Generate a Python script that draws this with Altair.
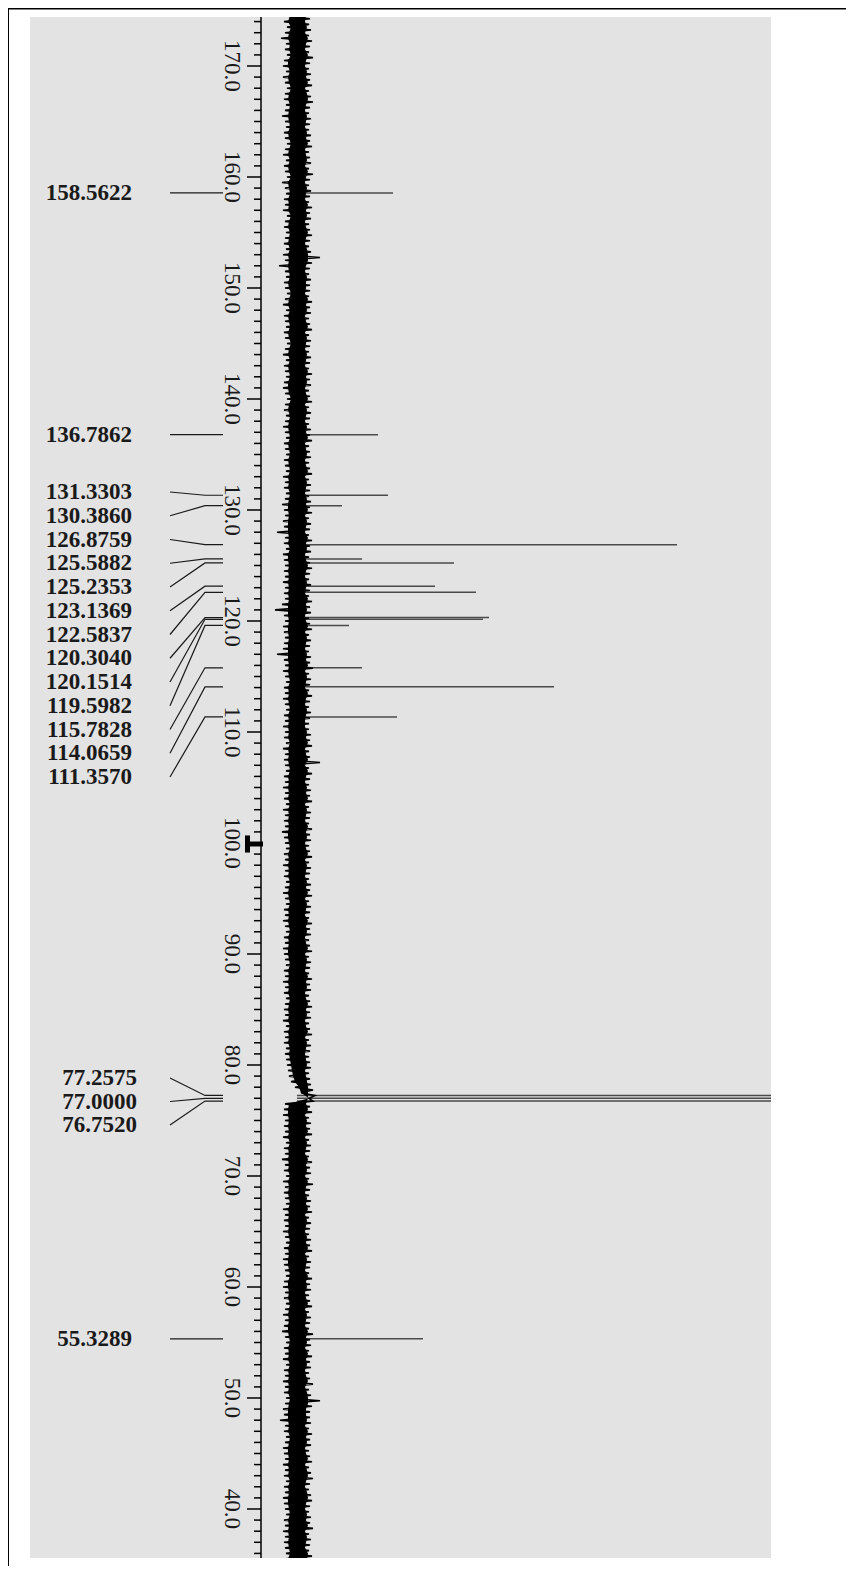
import altair as alt
import pandas as pd

# ---------------- data ----------------
peak_ppm = [158.5622, 136.7862, 131.3303, 130.3860, 126.8759, 125.5882, 125.2353,
            123.1369, 122.5837, 120.3040, 120.1514, 119.5982, 115.7828, 114.0659,
            111.3570, 77.2575, 77.0000, 76.7520, 55.3289]
peak_height = [96, 81, 91, 45, 380, 65, 157, 138, 179, 192, 186, 52, 65, 257,
               100, 2000, 2000, 2000, 126]
peak_group = ["s", "s", "a", "a", "a", "a", "a", "a", "a", "a", "a", "a", "a", "a",
              "a", "b", "b", "b", "s"]

tick_major = [40, 50, 60, 70, 80, 90, 100, 110, 120, 130, 140, 150, 160, 170]
tick_major_labels = ["40.0", "50.0", "60.0", "70.0", "80.0", "90.0", "100.0", "110.0",
                     "120.0", "130.0", "140.0", "150.0", "160.0", "170.0"]
tick_minor = list(range(36, 175))

marker_ppm = [99.91]

# noise envelope (px left / right of the baseline), every 0.5 ppm from 174.5 ppm down
noise_left = [
    11, 13, 10, 12, 16, 11, 12, 10, 13, 14, 11, 14, 12, 10, 12, 13, 11, 12, 15, 12,
    11, 13, 12, 10, 12, 14, 11, 13, 12, 10, 15, 12, 11, 13, 12, 14, 10, 12, 13, 11,
    12, 13, 11, 14, 12, 18, 12, 11, 13, 12, 10, 12, 14, 11, 13, 12, 11, 13, 12, 10,
    12, 14, 11, 13, 12, 11, 13, 14, 12, 10, 12, 13, 11, 12, 14, 12, 11, 13, 12, 11,
    13, 12, 11, 14, 12, 13, 11, 12, 15, 13, 12, 14, 13, 20, 12, 13, 11, 14, 13, 12,
    13, 12, 14, 12, 13, 12, 15, 22, 13, 12, 14, 13, 12, 13, 14, 20, 13, 12, 14, 12,
    11, 13, 12, 14, 12, 11, 13, 12, 14, 12, 13, 11, 14, 12, 13, 12, 11, 13, 12, 14,
    12, 13, 11, 14, 12, 13, 12, 15, 13, 12, 11, 13, 12, 14, 12, 13, 11, 12, 14, 12,
    11, 13, 12, 14, 12, 11, 13, 12, 14, 13, 12, 11, 13, 12, 14, 12, 13, 11, 12, 13,
    12, 14, 11, 13, 12, 13, 11, 12, 11, 10, 9, 8, 6, 2, -4, -12, 12, 13, 14, 12,
    13, 12, 14, 11, 13, 12, 15, 12, 13, 11, 14, 12, 13, 12, 11, 14, 12, 13, 12, 14,
    12, 11, 13, 12, 14, 13, 12, 11, 13, 14, 12, 13, 11, 12, 14, 12, 13, 15, 12, 11,
    13, 12, 14, 11, 13, 12, 14, 12, 13, 11, 12, 14, 13, 17, 12, 13, 11, 12, 14, 13,
    12, 14, 12, 13, 11, 13, 12, 14, 13, 12, 11, 13, 12, 14, 12, 13, 12, 11, 13,
]
noise_right = [
    13, 12, 14, 12, 15, 13, 12, 16, 13, 12, 14, 13, 15, 12, 14, 16, 13, 12, 14, 13,
    12, 14, 13, 15, 12, 13, 14, 12, 16, 13, 12, 14, 13, 12, 15, 13, 14, 12, 13, 15,
    13, 12, 14, 23, 15, 13, 12, 14, 13, 13, 12, 15, 13, 14, 12, 13, 15, 12, 14, 13,
    12, 14, 13, 12, 15, 13, 14, 12, 13, 15, 12, 14, 13, 12, 14, 13, 15, 12, 13, 14,
    12, 13, 15, 12, 14, 13, 12, 14, 13, 15, 12, 14, 13, 12, 15, 13, 14, 12, 13, 15,
    13, 12, 14, 13, 12, 15, 13, 14, 12, 13, 15, 12, 14, 13, 12, 14, 13, 16, 12, 14,
    13, 12, 15, 13, 12, 14, 13, 12, 12, 14, 13, 15, 12, 13, 23, 12, 15, 13, 12, 14,
    13, 15, 12, 14, 13, 12, 15, 13, 14, 12, 13, 15, 12, 14, 13, 12, 14, 13, 15, 12,
    14, 13, 12, 15, 13, 14, 12, 13, 15, 12, 14, 13, 12, 15, 13, 14, 12, 13, 15, 13,
    14, 12, 13, 15, 12, 14, 13, 12, 13, 14, 12, 13, 14, 16, 18, 16, 13, 15, 12, 14,
    13, 15, 12, 14, 13, 12, 15, 13, 14, 12, 16, 13, 12, 14, 13, 15, 12, 14, 13, 12,
    14, 13, 15, 12, 14, 13, 12, 15, 13, 14, 12, 13, 15, 12, 14, 13, 12, 16, 13, 14,
    12, 15, 13, 14, 12, 13, 16, 12, 14, 23, 15, 13, 13, 14, 12, 15, 13, 14, 12, 13,
    15, 12, 14, 16, 13, 12, 14, 15, 13, 12, 14, 13, 16, 12, 14, 13, 12, 15, 14,
]

# ---------------- layout (page pixels -> data units) ----------------
VIEW_W, VIEW_H = 741, 1541
PAD = {"left": 22, "top": 9, "right": 75, "bottom": 8}
PX_PER_PPM = 11.1
BASE_X = 297           # page x of the spectrum baseline
TOP_PPM = 174.414      # ppm at the top of the grey plot area
X_DOM = [30 - BASE_X, 30 + VIEW_W - BASE_X]
Y_DOM = [TOP_PPM - VIEW_H / PX_PER_PPM, TOP_PPM]


def vx(page_x):
    return page_x - BASE_X


def vy(page_y):
    return TOP_PPM - (page_y - 17) / PX_PER_PPM


xs = alt.Scale(domain=X_DOM, nice=False, zero=False)
ys = alt.Scale(domain=Y_DOM, nice=False, zero=False)


def rule_layer(df, color="black", width=1.0, clip=False):
    return alt.Chart(df).mark_rule(color=color, strokeWidth=width, clip=clip).encode(
        x=alt.X("x:Q", scale=xs, axis=None),
        x2="x2:Q",
        y=alt.Y("y:Q", scale=ys, axis=None),
        y2="y2:Q",
    )


# frame (left + top)
frame = pd.DataFrame([
    {"x": vx(8), "x2": vx(8), "y": vy(7.5), "y2": vy(1566)},
    {"x": vx(7), "x2": vx(855), "y": vy(8.5), "y2": vy(8.5)},
])

# peaks
peaks_df = pd.DataFrame({"ppm": peak_ppm, "h": peak_height})
peaks_df["x"] = 0
peaks_df["x2"] = peaks_df["h"]
peaks_df["y"] = peaks_df["ppm"]
peaks_df["y2"] = peaks_df["ppm"]

# noise: solid core + zig-zag trace through the envelope values
n = min(len(noise_left), len(noise_right))
core_df = pd.DataFrame({
    "ppm": [174.5 - 0.5 * i for i in range(n)],
    "lo": [-(min(v, 13) - 4) if v > 0 else -v for v in noise_left[:n]],
    "hi": [min(v, 15) - 4 for v in noise_right[:n]],
})
trace_rows = []
for i in range(n):
    trace_rows.append({"k": 2 * i, "ppm": 174.5 - 0.5 * i, "v": -noise_left[i]})
    trace_rows.append({"k": 2 * i + 1, "ppm": 174.25 - 0.5 * i, "v": noise_right[i]})
trace_df = pd.DataFrame(trace_rows)

# axis line and ticks
AX = vx(261)
axis_df = pd.DataFrame([{"x": AX, "x2": AX, "y": Y_DOM[1], "y2": Y_DOM[0]}])
ticks_df = pd.DataFrame(
    [{"x": AX, "x2": AX - (14 if t % 10 == 0 else 7), "y": t, "y2": t} for t in tick_minor]
)
ticklab_df = pd.DataFrame({"y": tick_major, "label": tick_major_labels})
ticklab_df["x"] = vx(232)

# reference marker at ~100 ppm
marker_v = pd.DataFrame([{"x": vx(247.5), "x2": vx(247.5),
                          "y": marker_ppm[0] + 0.77, "y2": marker_ppm[0] - 0.77}])
marker_h = pd.DataFrame([{"x": vx(245), "x2": vx(263),
                          "y": marker_ppm[0], "y2": marker_ppm[0]}])

# label positions
label_y = {}
a_idx = [i for i, g in enumerate(peak_group) if g == "a"]
for k, i in enumerate(a_idx):
    label_y[i] = vy(492) - k * (23.75 / PX_PER_PPM)
b_idx = [i for i, g in enumerate(peak_group) if g == "b"]
for k, i in enumerate(b_idx):
    label_y[i] = vy(1078) - k * (23.5 / PX_PER_PPM)
for i, g in enumerate(peak_group):
    if g == "s":
        label_y[i] = peak_ppm[i]

lab_rows, con_rows = [], []
for i, p in enumerate(peak_ppm):
    ly = label_y[i]
    right = 137 if peak_group[i] == "b" else 132
    lab_rows.append({"x": vx(right), "y": ly, "label": f"{p:.4f}"})
    con_rows += [
        {"pk": i, "o": 0, "x": vx(170), "y": ly},
        {"pk": i, "o": 1, "x": vx(205), "y": p},
        {"pk": i, "o": 2, "x": vx(223), "y": p},
    ]
lab_df = pd.DataFrame(lab_rows)
con_df = pd.DataFrame(con_rows)

# ---------------- layers ----------------
frame_l = rule_layer(frame, width=2)
peaks_l = rule_layer(peaks_df, color="#4a4a4a", width=1.5, clip=True)
core_l = alt.Chart(core_df).mark_area(orient="horizontal", color="black", clip=True).encode(
    y=alt.Y("ppm:Q", scale=ys, axis=None),
    x=alt.X("lo:Q", scale=xs, axis=None),
    x2="hi:Q",
)
trace_l = alt.Chart(trace_df).mark_line(color="black", strokeWidth=1.6, clip=True).encode(
    x=alt.X("v:Q", scale=xs, axis=None),
    y=alt.Y("ppm:Q", scale=ys, axis=None),
    order="k:Q",
)
axis_l = rule_layer(axis_df, width=1.5)
ticks_l = rule_layer(ticks_df, width=1.5)
ticklab_l = alt.Chart(ticklab_df).mark_text(
    angle=90, align="center", baseline="middle", font="Liberation Serif",
    fontSize=23, color="#1a1a1a",
).encode(
    x=alt.X("x:Q", scale=xs, axis=None),
    y=alt.Y("y:Q", scale=ys, axis=None),
    text="label:N",
)
marker_l = rule_layer(marker_v, width=5) + rule_layer(marker_h, width=5)
con_l = alt.Chart(con_df).mark_line(color="#1a1a1a", strokeWidth=1.2).encode(
    x=alt.X("x:Q", scale=xs, axis=None),
    y=alt.Y("y:Q", scale=ys, axis=None),
    detail="pk:N",
    order="o:Q",
)
lab_l = alt.Chart(lab_df).mark_text(
    align="right", baseline="middle", font="Liberation Serif", fontWeight="bold",
    fontSize=23, color="#1a1a1a",
).encode(
    x=alt.X("x:Q", scale=xs, axis=None),
    y=alt.Y("y:Q", scale=ys, axis=None),
    text="label:N",
)

chart = alt.layer(
    frame_l, peaks_l, core_l, trace_l, axis_l, ticks_l, ticklab_l, marker_l, con_l, lab_l
).properties(
    width=VIEW_W,
    height=VIEW_H,
    padding=PAD,
    autosize=alt.AutoSizeParams(type="none"),
    background="white",
).configure_view(
    fill="#e3e3e3",
    strokeWidth=0,
)

chart.save("out.html", embed_options={"renderer": "svg", "actions": False})
